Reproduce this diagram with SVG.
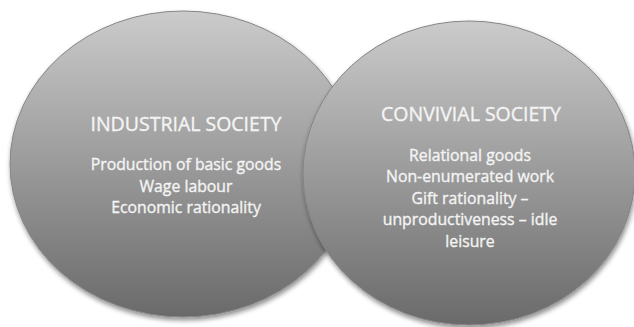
<svg xmlns="http://www.w3.org/2000/svg" width="634" height="327" viewBox="0 0 634 327">
<defs>
<linearGradient id="g" x1="0" y1="0" x2="0" y2="1">
<stop offset="0" stop-color="#cbcbcb"/>
<stop offset="1" stop-color="#6a6a6a"/>
</linearGradient>
<filter id="sh" x="-10%" y="-10%" width="120%" height="125%">
<feGaussianBlur in="SourceAlpha" stdDeviation="2.5"/>
<feOffset dx="1" dy="3" result="b"/>
<feComponentTransfer><feFuncA type="linear" slope="0.45"/></feComponentTransfer>
<feMerge><feMergeNode/><feMergeNode in="SourceGraphic"/></feMerge>
</filter>
<style>
.c{fill:url(#g);stroke:#858585;stroke-width:1;filter:url(#sh)}
text{font-family:"Open Sans","Liberation Sans",sans-serif;fill:#f4f4f4;stroke:#f4f4f4;stroke-width:0.35;text-anchor:middle}
.t{font-size:19.5px}
.b{font-size:15.8px}
</style>
</defs>
<g id="industrial">
<ellipse class="c" cx="183" cy="164" rx="173" ry="153"/>
<text class="t" x="186" y="131">INDUSTRIAL SOCIETY</text>
<text class="b" x="186" y="170">Production of basic goods</text>
<text class="b" x="186" y="191.5">Wage labour</text>
<text class="b" x="186" y="213">Economic rationality</text>
</g>
<g id="convivial">
<ellipse class="c" cx="469" cy="173" rx="166" ry="152"/>
<text class="t" x="471" y="121">CONVIVIAL SOCIETY</text>
<text class="b" x="470" y="160.5">Relational goods</text>
<text class="b" x="470" y="182">Non-enumerated work</text>
<text class="b" x="470" y="203.5">Gift rationality –</text>
<text class="b" x="470" y="225">unproductiveness – idle</text>
<text class="b" x="470" y="246.5">leisure</text>
</g>
<g id="connectors"/>
</svg>
